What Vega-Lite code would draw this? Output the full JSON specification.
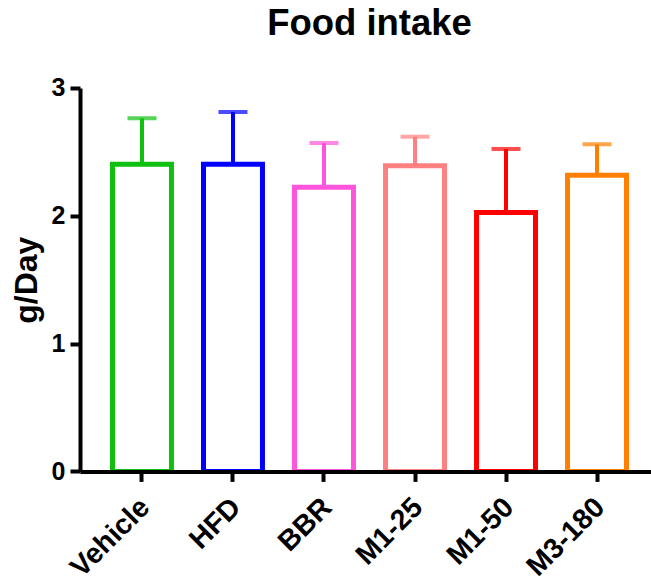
{
  "$schema": "https://vega.github.io/schema/vega-lite/v6.json",
  "autosize": {"type": "none"},
  "padding": {"left": 80, "top": 88, "right": 0, "bottom": 112},
  "width": 579,
  "height": 383.4,
  "background": "white",
  "view": {"stroke": null},
  "title": {
    "text": "Food intake",
    "font": "Liberation Sans",
    "fontWeight": "bold",
    "fontSize": 36.5,
    "color": "black",
    "anchor": "middle",
    "offset": 33
  },
  "data": {
    "values": [
      {"group": "Vehicle", "mean": 2.404, "upper": 2.763},
      {"group": "HFD", "mean": 2.404, "upper": 2.812},
      {"group": "BBR", "mean": 2.224, "upper": 2.57},
      {"group": "M1-25", "mean": 2.391, "upper": 2.619},
      {"group": "M1-50", "mean": 2.026, "upper": 2.523},
      {"group": "M3-180", "mean": 2.318, "upper": 2.559}
    ]
  },
  "encoding": {
    "x": {
      "field": "group",
      "type": "nominal",
      "sort": null,
      "scale": {"paddingInner": 0.352, "paddingOuter": 0.357},
      "axis": {
        "title": null,
        "labelAngle": -45,
        "labelFont": "Liberation Sans",
        "labelFontWeight": "bold",
        "labelFontSize": 28.5,
        "labelColor": "black",
        "labelPadding": 11,
        "labelOffset": -7,
        "domainColor": "black",
        "domainWidth": 4,
        "tickColor": "black",
        "tickWidth": 4,
        "tickSize": 10,
        "zindex": 1
      }
    },
    "color": {
      "field": "group",
      "type": "nominal",
      "sort": null,
      "scale": {
        "domain": ["Vehicle", "HFD", "BBR", "M1-25", "M1-50", "M3-180"],
        "range": ["#10C010", "#0000FF", "#FF55DD", "#FF8080", "#FF0000", "#FF8000"]
      },
      "legend": null
    }
  },
  "layer": [
    {
      "mark": {"type": "bar", "fill": "white", "strokeWidth": 5},
      "encoding": {
        "y": {
          "field": "mean",
          "type": "quantitative",
          "scale": {"domain": [0, 3], "nice": false},
          "axis": {
            "title": "g/Day",
            "titleFont": "Liberation Sans",
            "titleFontWeight": "bold",
            "titleFontSize": 32,
            "titleColor": "black",
            "titlePadding": 8,
            "values": [0, 1, 2, 3],
            "format": "d",
            "grid": false,
            "labelFont": "Liberation Sans",
            "labelFontWeight": "bold",
            "labelFontSize": 25,
            "labelColor": "black",
            "labelPadding": 5,
            "domainColor": "black",
            "domainWidth": 4,
            "tickColor": "black",
            "tickWidth": 4,
            "tickSize": 10,
            "zindex": 1
          }
        },
        "stroke": {"field": "group", "type": "nominal", "sort": null, "scale": {
          "domain": ["Vehicle", "HFD", "BBR", "M1-25", "M1-50", "M3-180"],
          "range": ["#10C010", "#0000FF", "#FF55DD", "#FF8080", "#FF0000", "#FF8000"]
        }, "legend": null}
      }
    },
    {
      "mark": {"type": "rule", "strokeWidth": 4},
      "encoding": {
        "y": {"field": "mean", "type": "quantitative"},
        "y2": {"field": "upper"}
      }
    },
    {
      "mark": {"type": "tick", "thickness": 4, "size": 29},
      "encoding": {
        "y": {"field": "upper", "type": "quantitative"}
      }
    }
  ]
}
